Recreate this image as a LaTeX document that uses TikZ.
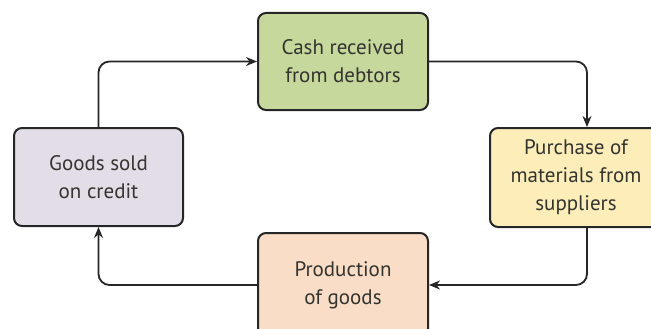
\documentclass[tikz,border=0pt]{standalone}
\usepackage{fontspec}
\setmainfont{PT Sans}
\usepackage{xcolor}
\usepackage{tikz}
\usetikzlibrary{calc,arrows.meta,positioning}
\definecolor{linec}{HTML}{262626}
\definecolor{textc}{HTML}{33332F}
\definecolor{cashc}{HTML}{C7D89D}
\definecolor{creditc}{HTML}{E3DDE7}
\definecolor{purchc}{HTML}{FCEDB9}
\definecolor{prodc}{HTML}{FADDC6}
\tikzset{
  ar/.style={-{Stealth[length=11pt,width=9pt]},line width=1.8pt,linec,rounded corners=11pt},
  box/.style={draw=linec,line width=2pt,rounded corners=8pt,align=center,text=textc,
    font=\fontsize{21}{28}\selectfont,minimum width=170pt,minimum height=97pt,inner sep=4pt}
}

\begin{document}
\begin{tikzpicture}[x=1pt,y=-1pt]
\useasboundingbox (0,0) rectangle (651,329);
\node[box,fill=cashc] (cash) at (343,61.5) {Cash received\\from debtors};
\node[box,fill=creditc,minimum width=169pt,minimum height=98pt] (credit) at (98.5,177) {Goods sold\\on credit};
\node[box,fill=purchc,minimum width=172pt,minimum height=99pt] (purch) at (576,177.5) {Purchase of\\materials from\\suppliers};
\node[box,fill=prodc,minimum height=104pt] (prod) at (343,285) {Production\\of goods};
\draw[ar] (credit.north) |- (cash.west);
\draw[ar] (cash.east) -| ([xshift=11pt]purch.north);
\draw[ar] ([xshift=11pt]purch.south) |- (prod.east);
\draw[ar] (prod.west) -| (credit.south);
\end{tikzpicture}
\end{document}
